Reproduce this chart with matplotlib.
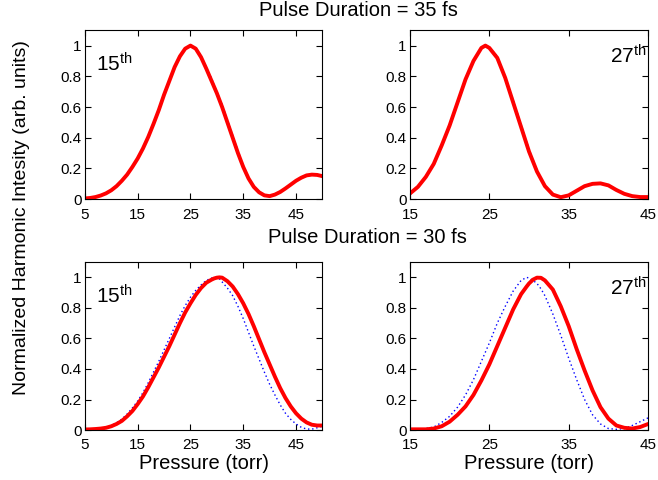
import numpy as np
import matplotlib
matplotlib.use('Agg')
from matplotlib import pyplot as plt

plt.rcParams['font.family'] = ['Liberation Sans', 'DejaVu Sans']
plt.rcParams['mathtext.fontset'] = 'custom'
plt.rcParams['mathtext.rm'] = 'Liberation Sans'
plt.rcParams['mathtext.it'] = 'Liberation Sans'

# 压强 (torr)
p_15 = [5, 6, 7, 8, 9, 10, 11, 12, 13, 14, 15, 16, 17, 18, 19, 20, 21, 22, 23, 24, 25, 26, 27, 28, 29, 30,
        31, 32, 33, 34, 35, 36, 37, 38, 39, 40, 41, 42, 43, 44, 45, 46, 47, 48, 49, 50]
p_27 = [15, 16, 17, 18, 19, 20, 21, 22, 23, 24, 24.5, 25, 26, 27, 28, 29, 30, 31, 32, 33, 34, 35, 36, 37,
        38, 39, 40, 41, 42, 43, 44, 45]

# 35 fs, 15th
red_35_15 = [0.005, 0.008, 0.014, 0.024, 0.038, 0.058, 0.085, 0.12, 0.16, 0.21, 0.265, 0.33, 0.405, 0.49,
             0.58, 0.68, 0.77, 0.86, 0.93, 0.98, 1.0, 0.98, 0.925, 0.85, 0.77, 0.69, 0.60, 0.50, 0.40, 0.30,
             0.21, 0.135, 0.08, 0.045, 0.025, 0.02, 0.03, 0.047, 0.07, 0.095, 0.12, 0.14, 0.155, 0.16, 0.158,
             0.15]
blue_35_15 = [0.005, 0.008, 0.014, 0.024, 0.038, 0.058, 0.085, 0.12, 0.16, 0.21, 0.265, 0.33, 0.405, 0.49,
              0.58, 0.68, 0.77, 0.86, 0.93, 0.98, 1.0, 0.985, 0.935, 0.86, 0.785, 0.70, 0.615, 0.515, 0.415,
              0.315, 0.22, 0.145, 0.085, 0.048, 0.027, 0.02, 0.028, 0.045, 0.068, 0.093, 0.12, 0.14, 0.156,
              0.161, 0.159, 0.15]
# 35 fs, 27th
red_35_27 = [0.037, 0.08, 0.145, 0.23, 0.35, 0.48, 0.63, 0.78, 0.90, 0.985, 1.0, 0.985, 0.92, 0.79, 0.63,
             0.47, 0.31, 0.18, 0.085, 0.03, 0.013, 0.025, 0.055, 0.085, 0.10, 0.103, 0.09, 0.06, 0.035, 0.02,
             0.014, 0.014]
blue_35_27 = [0.03, 0.075, 0.14, 0.225, 0.345, 0.475, 0.625, 0.775, 0.90, 0.985, 1.0, 0.99, 0.93, 0.80,
              0.645, 0.485, 0.325, 0.19, 0.09, 0.035, 0.012, 0.02, 0.05, 0.08, 0.098, 0.104, 0.092, 0.065,
              0.038, 0.018, 0.008, 0.005]

# 30 fs, 15th
p_15b = [5, 6, 7, 8, 9, 10, 11, 12, 13, 14, 15, 16, 17, 18, 19, 20, 21, 22, 23, 24, 25, 26, 27, 28, 29,
         29.5, 30, 30.5, 31, 32, 33, 34, 35, 36, 37, 38, 39, 40, 41, 42, 43, 44, 45, 46, 47, 48, 49, 50]
red_30_15 = [0.004, 0.005, 0.007, 0.01, 0.015, 0.025, 0.04, 0.06, 0.09, 0.125, 0.17, 0.22, 0.28, 0.345,
             0.41, 0.48, 0.55, 0.625, 0.70, 0.77, 0.83, 0.885, 0.93, 0.965, 0.985, 0.993, 0.998, 1.0,
             0.998, 0.975, 0.94, 0.89, 0.83, 0.76, 0.68, 0.595, 0.51, 0.43, 0.35, 0.275, 0.21, 0.155, 0.11,
             0.075, 0.05, 0.035, 0.03, 0.03]
blue_30_15 = [0.005, 0.006, 0.008, 0.013, 0.02, 0.03, 0.047, 0.072, 0.105, 0.145, 0.19, 0.245, 0.31, 0.38,
              0.45, 0.525, 0.60, 0.675, 0.75, 0.815, 0.87, 0.915, 0.95, 0.98, 0.995, 1.0, 0.998, 0.99,
              0.97, 0.93, 0.88, 0.81, 0.73, 0.64, 0.55, 0.465, 0.38, 0.30, 0.23, 0.165, 0.11, 0.07, 0.04,
              0.018, 0.007, 0.006, 0.015, 0.025]

# 30 fs, 27th
p_27b = [15, 16, 17, 18, 19, 20, 21, 22, 23, 24, 25, 26, 27, 28, 29, 29.7, 30, 30.5, 31, 31.5, 32, 33, 34,
         35, 36, 37, 38, 39, 40, 41, 42, 43, 44, 45]
red_30_27 = [0.005, 0.005, 0.005, 0.01, 0.025, 0.055, 0.10, 0.155, 0.23, 0.325, 0.43, 0.55, 0.67, 0.79,
             0.89, 0.94, 0.96, 0.985, 0.998, 0.997, 0.98, 0.92, 0.81, 0.68, 0.53, 0.39, 0.26, 0.15, 0.075,
             0.03, 0.015, 0.01, 0.02, 0.04]
blue_30_27 = [0.005, 0.006, 0.01, 0.02, 0.05, 0.09, 0.15, 0.23, 0.33, 0.45, 0.57, 0.70, 0.81, 0.91, 0.98,
              1.0, 0.995, 0.98, 0.96, 0.925, 0.88, 0.76, 0.62, 0.47, 0.33, 0.20, 0.10, 0.04, 0.01, 0.005,
              0.01, 0.03, 0.055, 0.08]

panels = [
    ([0.129, 0.585, 0.361, 0.352], p_15, red_35_15, p_15, blue_35_15, (5, 50), [5, 15, 25, 35, 45], '15', 'left', 0.80),
    ([0.623, 0.585, 0.362, 0.352], p_27, red_35_27, p_27, blue_35_27, (15, 45), [15, 25, 35, 45], '27', 'right', 0.85),
    ([0.129, 0.104, 0.361, 0.350], p_15b, red_30_15, p_15b, blue_30_15, (5, 50), [5, 15, 25, 35, 45], '15', 'left', 0.80),
    ([0.623, 0.104, 0.362, 0.350], p_27b, red_30_27, p_27b, blue_30_27, (15, 45), [15, 25, 35, 45], '27', 'right', 0.845),
]

fig = plt.figure(figsize=(6.58, 4.8), dpi=100)
for i, (pos, xr, yr, xb, yb, xlim, xt, order, side, ty) in enumerate(panels):
    ax = fig.add_axes(pos)
    ax.plot(xb, yb, color='blue', lw=1.0, linestyle=(0, (1, 2)))
    ax.plot(xr, yr, color='red', lw=2.8, solid_capstyle='round', solid_joinstyle='round')
    ax.set_xlim(*xlim)
    ax.set_ylim(0, 1.1)
    ax.set_xticks(xt)
    ax.set_yticks([0, 0.2, 0.4, 0.6, 0.8, 1])
    ax.set_yticklabels(['0', '0.2', '0.4', '0.6', '0.8', '1'])
    ax.tick_params(direction='in', top=True, right=True, length=4, labelsize=11)
    ax.tick_params(axis='x', pad=6)
    ax.tick_params(axis='y', pad=2.5)
    for s in ax.spines.values():
        s.set_linewidth(0.8)
    if side == 'left':
        ax.text(0.045, ty, order + '$^{\\rm th}$', transform=ax.transAxes, fontsize=15, va='center', ha='left')
    else:
        ax.text(0.995, ty, order + '$^{\\rm th}$', transform=ax.transAxes, fontsize=15, va='center', ha='right')
    if i >= 2:
        ax.set_xlabel('Pressure (torr)', fontsize=14.5, labelpad=1)

fig.text(0.545, 0.979, 'Pulse Duration = 35 fs', ha='center', va='center', fontsize=14.5)
fig.text(0.558, 0.506, 'Pulse Duration = 30 fs', ha='center', va='center', fontsize=14.5)
fig.text(0.033, 0.547, 'Normalized Harmonic Intesity (arb. units)', rotation=90, ha='center', va='center', fontsize=14)

plt.savefig('out.png', dpi=100)
